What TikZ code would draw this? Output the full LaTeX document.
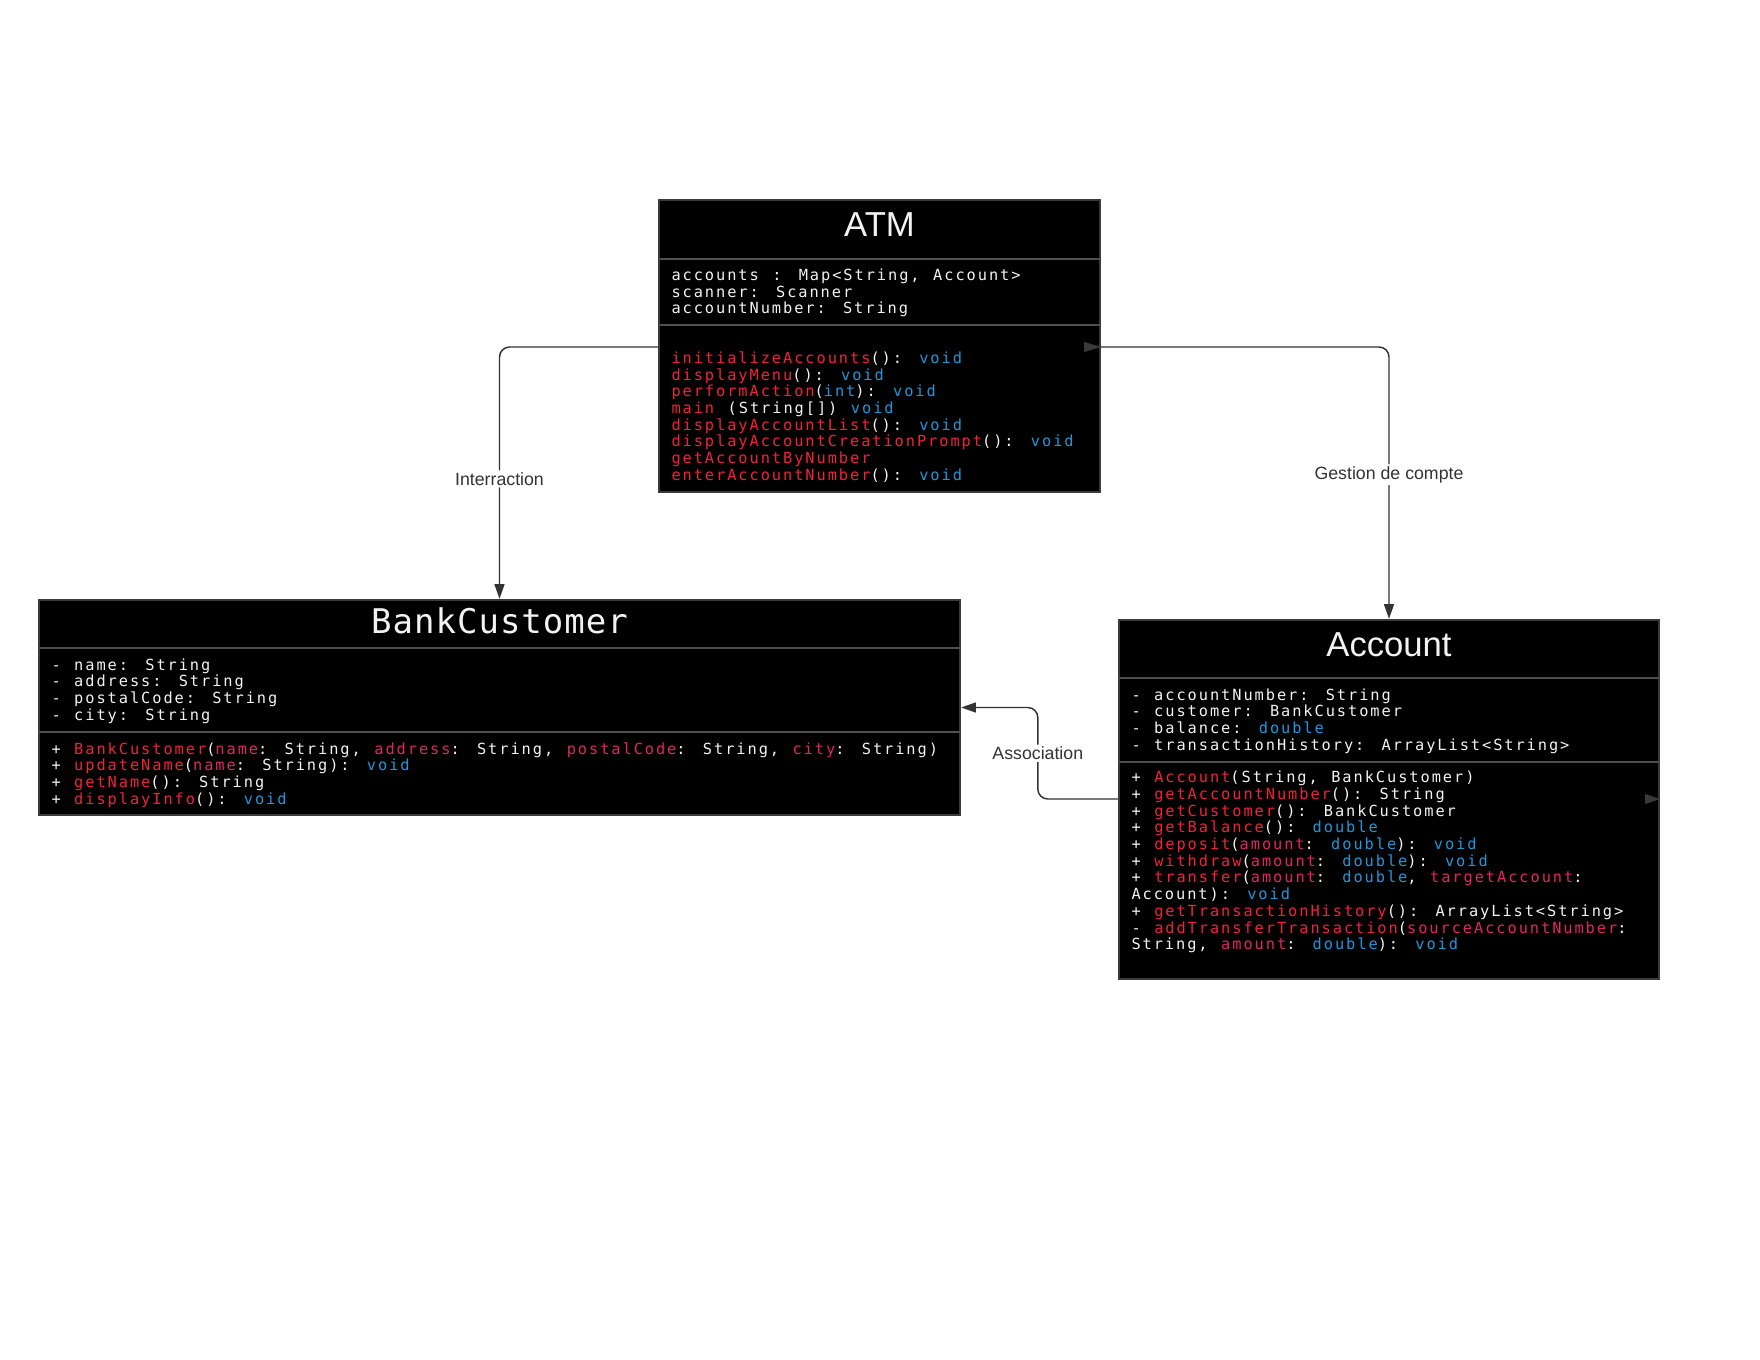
\documentclass[tikz,border=0pt]{standalone}
\usepackage{fontspec}
\setmainfont{Liberation Sans}
\newfontfamily\umlmono[LetterSpace=12.6,WordSpace=1.21]{DejaVu Sans Mono}
\newfontfamily\umltitle[LetterSpace=3]{DejaVu Sans Mono}
\usetikzlibrary{arrows.meta,fit}
\definecolor{fnred}{RGB}{240,34,58}
\definecolor{parpink}{RGB}{226,36,102}
\definecolor{tyblue}{RGB}{32,150,216}
\definecolor{txtwhite}{RGB}{242,242,242}
\definecolor{edgegray}{RGB}{58,58,58}
\definecolor{rulegray}{RGB}{80,80,80}
\definecolor{linkgray}{RGB}{51,51,51}
\newcommand{\fn}[1]{\textcolor{fnred}{#1}}
\newcommand{\pa}[1]{\textcolor{parpink}{#1}}
\newcommand{\ty}[1]{\textcolor{tyblue}{#1}}
\tikzset{every picture/.style={line width=0.75pt}}

\begin{document}
\begin{tikzpicture}[x=0.75pt,y=0.75pt,yscale=-1,xscale=1,
  classbox/.style={draw=edgegray, line width=1.8pt, fill=black, inner sep=0pt},
  divider/.style={draw=rulegray, line width=1.4pt},
  code/.style={anchor=base west, inner sep=0pt, text=txtwhite, font=\umlmono\fontsize{11.5}{13}\selectfont},
  title/.style={anchor=base, inner sep=0pt, text=txtwhite, font=\fontsize{26}{30}\selectfont},
  link/.style={draw=linkgray, line width=1.1pt, rounded corners=7.5pt, -{Triangle[length=11pt,width=7.5pt]}},
  linklabel/.style={fill=white, inner sep=1.5pt, text=linkgray, font=\fontsize{13.3}{15}\selectfont},
  stub/.style={fill=edgegray}]
%uncomment if require: \path (0,1360); %set diagram left start at 0, and has height of 1360
\fill[white] (0,0) rectangle (1760,1360);
\useasboundingbox (0,0) rectangle (1760,1360);

%Shape: Class [ATM]
\node[classbox, fit={(659,200) (1100,492)}] (atm) {};
\draw[divider] (659,259) -- (1100,259);
\draw[divider] (659,325) -- (1100,325);
%Shape: Class [BankCustomer]
\node[classbox, fit={(39,600) (960,815)}] (bc) {};
\draw[divider] (39,648) -- (960,648);
\draw[divider] (39,732) -- (960,732);
%Shape: Class [Account]
\node[classbox, fit={(1119,620) (1659,979)}] (acc) {};
\draw[divider] (1119,678) -- (1659,678);
\draw[divider] (1119,762) -- (1659,762);

% Text Node
\node[title] (atm-title) at (879.5,236.7) {ATM};
\node[title, font=\umltitle\fontsize{25.5}{30}\selectfont] (bc-title) at (499.5,633) {BankCustomer};
\node[title] (acc-title) at (1389,656) {Account};

% ATM members
\foreach \txt [count=\i] in {{accounts : Map<String, Account>},{scanner: Scanner},{accountNumber: String}}
  \node[code] (atm-a\i) at (671,{280.3+16.7*(\i-1)}) {\txt};
\foreach \txt [count=\i] in {{\fn{initializeAccounts}(): \ty{void}},{\fn{displayMenu}(): \ty{void}},
    {\fn{performAction}(\ty{int}): \ty{void}},{\fn{main} (String[]) \ty{void}},
    {\fn{displayAccountList}(): \ty{void}},{\fn{displayAccountCreationPrompt}(): \ty{void}},
    {\fn{getAccountByNumber}},{\fn{enterAccountNumber}(): \ty{void}}}
  \node[code] (atm-m\i) at (671,{363.3+16.7*(\i-1)}) {\txt};

% BankCustomer members
\foreach \txt [count=\i] in {{- name: String},{- address: String},{- postalCode: String},{- city: String}}
  \node[code] (bc-a\i) at (51,{670+16.7*(\i-1)}) {\txt};
\foreach \txt [count=\i] in {{+ \fn{BankCustomer}(\pa{name}: String, \pa{address}: String, \pa{postalCode}: String, \pa{city}: String)},
    {+ \fn{updateName}(\pa{name}: String): \ty{void}},{+ \fn{getName}(): String},{+ \fn{displayInfo}(): \ty{void}}}
  \node[code] (bc-m\i) at (51,{754+16.7*(\i-1)}) {\txt};

% Account members
\foreach \txt [count=\i] in {{- accountNumber: String},{- customer: BankCustomer},{- balance: \ty{double}},
    {- transactionHistory: ArrayList<String>}}
  \node[code] (acc-a\i) at (1131,{700+16.7*(\i-1)}) {\txt};
\foreach \txt [count=\i] in {{+ \fn{Account}(String, BankCustomer)},{+ \fn{getAccountNumber}(): String},
    {+ \fn{getCustomer}(): BankCustomer},{+ \fn{getBalance}(): \ty{double}},
    {+ \fn{deposit}(\pa{amount}: \ty{double}): \ty{void}},{+ \fn{withdraw}(\pa{amount}: \ty{double}): \ty{void}},
    {+ \fn{transfer}(\pa{amount}: \ty{double}, \pa{targetAccount}:},{Account): \ty{void}},
    {+ \fn{getTransactionHistory}(): ArrayList<String>},{- \fn{addTransferTransaction}(\pa{sourceAccountNumber}:},
    {String, \pa{amount}: \ty{double}): \ty{void}}}
  \node[code] (acc-m\i) at (1131,{782.7+16.7*(\i-1)}) {\txt};

%Straight Lines [links]
\coordinate (atm-port) at (879.5,347);
\coordinate (acc-port) at (1389,799);
\draw[link] (atm.west |- atm-port) -| (bc.north) node[linklabel, pos=0.762] (lbl-inter) {Interraction};
\draw[link] (atm.east |- atm-port) -| (acc.north) node[linklabel, pos=0.735] (lbl-gestion) {Gestion de compte};
\draw[link] (acc.west |- acc-port) -- ++(-80,0) |- (bc.east) node[linklabel, pos=0.25] (lbl-assoc) {Association};
\fill[stub] (atm.east |- atm-port) -- ++(-17,-5) -- ++(0,10) -- cycle;
\fill[stub] (acc.east |- acc-port) -- ++(-15,-5) -- ++(0,10) -- cycle;

\end{tikzpicture}
\end{document}
